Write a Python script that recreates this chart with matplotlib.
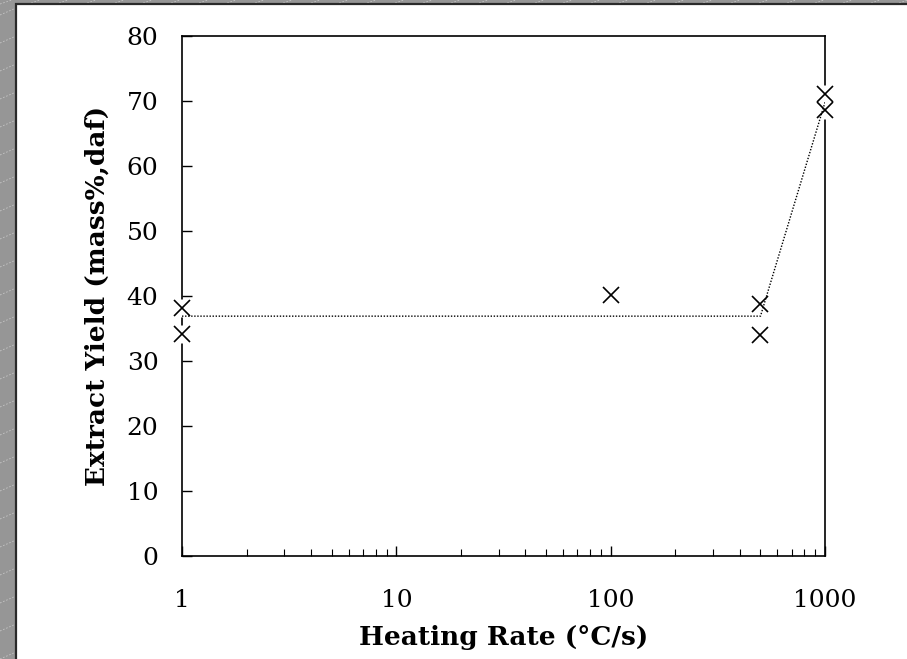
import numpy as np
import matplotlib
matplotlib.use("Agg")
import matplotlib.pyplot as plt
from matplotlib.patches import Rectangle
from matplotlib.lines import Line2D

# data
heating_rate = [1, 1, 100, 500, 500, 1000, 1000]
extract_yield = [38.2, 34.2, 40.2, 38.8, 34.0, 71.1, 68.6]

trend_rate = [1, 500, 1000]
trend_yield = [36.9, 36.9, 69.8]

x_ticks = [1, 10, 100, 1000]
x_tick_labels = ["1", "10", "100", "1000"]
y_ticks = [0, 10, 20, 30, 40, 50, 60, 70, 80]

W, H = 907, 659
fig = plt.figure(figsize=(W / 100, H / 100), dpi=100)
fig.patch.set_facecolor("#969696")

# slide background: grey strip with faint diagonal streaks, white panel
for k in range(-5, 40):
    y0 = k * 28 / H
    fig.add_artist(Line2D([0, 16 / W], [y0, y0 + 7 / H], color="#c4c4c4",
                          lw=0.6, ls=(0, (2, 2)), zorder=0))
for k in range(0, 40):
    x0 = k * 28 / W
    fig.add_artist(Line2D([x0, x0 + 12 / W], [1 - 4 / H, 1.0], color="#c4c4c4",
                          lw=0.6, ls=(0, (2, 2)), zorder=0))
fig.add_artist(Rectangle((16 / W, -0.05), 1.0, 1 - 4 / H + 0.05,
                         transform=fig.transFigure, facecolor="white",
                         edgecolor="#2a2a2a", lw=1.6, zorder=1))

ax = fig.add_axes([182 / W, 1 - 556 / H, (825 - 182) / W, (556 - 36) / H])
ax.set_zorder(2)
ax.set_facecolor("white")

serif = ["DejaVu Serif"]

ax.plot(trend_rate, trend_yield, color="black", lw=1.0, ls=(0, (1, 1.2)), zorder=4)
# white halo so markers break the axis lines
ax.plot(heating_rate, extract_yield, ls="none", marker="s", ms=13,
        mfc="white", mec="none", clip_on=False, zorder=3)
ax.plot(heating_rate, extract_yield, ls="none", marker="x", ms=11,
        mew=1.2, color="black", clip_on=False, zorder=5)

ax.set_xscale("log")
ax.set_xlim(1, 1000)
ax.set_ylim(0, 80)
ax.set_xticks(x_ticks)
ax.set_xticklabels(x_tick_labels)
ax.set_yticks(y_ticks)
ax.xaxis.set_minor_formatter(matplotlib.ticker.NullFormatter())

for s in ax.spines.values():
    s.set_linewidth(1.2)
    s.set_color("black")

ax.tick_params(axis="x", which="major", direction="in", length=7, width=1,
               pad=24, labelsize=18, top=False)
ax.tick_params(axis="x", which="minor", direction="in", length=5, width=0.8, top=False)
ax.tick_params(axis="y", direction="in", length=7, width=1, pad=17,
               labelsize=18, right=False)
for lab in ax.get_xticklabels() + ax.get_yticklabels():
    lab.set_family(serif)

ax.set_xlabel("Heating Rate (°C/s)", family=serif, fontweight="bold",
              fontsize=19, labelpad=9)
ax.set_ylabel("Extract Yield (mass%,daf)", family=serif, fontweight="bold",
              fontsize=19, labelpad=12)

fig.savefig("out.png", dpi=100, facecolor=fig.get_facecolor())
